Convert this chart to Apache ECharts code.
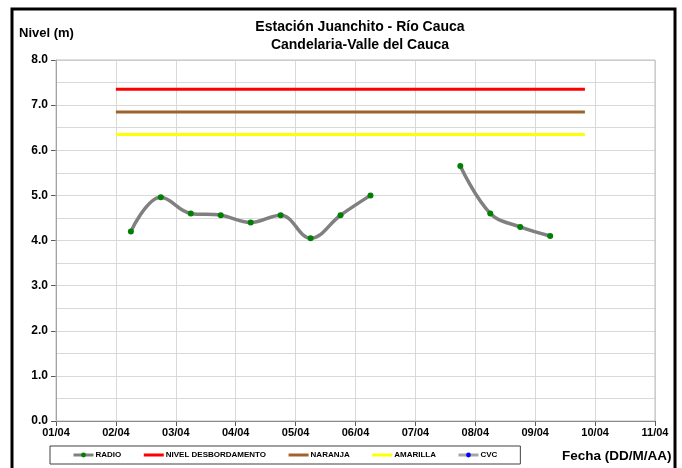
<!DOCTYPE html>
<html>
<head>
<meta charset="utf-8">
<script src="https://cdn.jsdelivr.net/npm/echarts@6/dist/echarts.min.js"></script>
<style>
  html, body { margin: 0; padding: 0; background: #fff; }
  #chart { width: 682px; height: 468px; }
</style>
</head>
<body>
<div id="chart"></div>
<script>
// dias contados desde 01/04 (0 = 01/04 00:00)
var fechas = ['01/04', '02/04', '03/04', '04/04', '05/04', '06/04', '07/04', '08/04', '09/04', '10/04', '11/04']
var radioDias = [1.25, 1.75, 2.25, 2.75, 3.25, 3.75, 4.25, 4.75, 5.25, 5.75, 6.25, 6.75, 7.25, 7.75, 8.25]
var radioNivel = [4.2, 4.96, 4.6, 4.56, 4.4, 4.56, 4.05, 4.56, 5.0, null, null, 5.65, 4.6, 4.3, 4.1]
var umbralDias = [1, 8.83]
var nivelDesbordamento = 7.35
var nivelNaranja = 6.85
var nivelAmarilla = 6.35

var font = 'Liberation Sans, Arial, sans-serif'
var chart = echarts.init(document.getElementById('chart'))

function umbral(name, valor, color) {
  return {
    name: name,
    type: 'line',
    data: umbralDias.map(function (d) { return [d, valor] }),
    symbol: 'none',
    lineStyle: { color: color, width: 3 },
    itemStyle: { color: color },
    z: 3
  }
}

chart.setOption({
  animation: false,
  title: {
    text: 'Estación Juanchito - Río Cauca\nCandelaria-Valle del Cauca',
    left: 355,
    textAlign: 'center',
    top: 13,
    textStyle: { fontFamily: font, fontSize: 14, fontWeight: 'bold', lineHeight: 18, color: '#000' }
  },
  graphic: [
    {
      type: 'rect',
      shape: { x: 12, y: 9, width: 663, height: 480 },
      style: { fill: 'none', stroke: '#000', lineWidth: 3 }
    },
    {
      type: 'text',
      left: 19,
      top: 27,
      style: { text: 'Nivel (m)', font: 'bold 13px ' + font, fill: '#000' }
    },
    {
      type: 'text',
      left: 562,
      top: 449,
      style: { text: 'Fecha (DD/M/AA)', font: 'bold 13.5px ' + font, fill: '#000' }
    },
    {
      type: 'rect',
      shape: { x: 56, y: 60, width: 599, height: 361 },
      style: { fill: 'none', stroke: '#bfbfbf', lineWidth: 1 },
      z: 1
    }
  ],
  grid: { left: 56, right: 27, top: 60, bottom: 47 },
  legend: {
    left: 50,
    top: 446,
    width: 470,
    height: 10,
    padding: [5, 23, 5, 22],
    borderColor: '#404040',
    borderWidth: 1,
    itemWidth: 20,
    itemHeight: 6,
    itemGap: 21,
    lineStyle: { width: 3 },
    textStyle: { fontFamily: font, fontSize: 8, fontWeight: 'bold', color: '#000', padding: [0, 0, 0, -3] },
    data: [
      { name: 'RADIO' },
      { name: 'NIVEL DESBORDAMENTO', itemStyle: { opacity: 0 } },
      { name: 'NARANJA', itemStyle: { opacity: 0 } },
      { name: 'AMARILLA', itemStyle: { opacity: 0 } },
      { name: 'CVC' }
    ]
  },
  xAxis: {
    type: 'value',
    min: 0,
    max: 10,
    interval: 1,
    axisLine: { lineStyle: { color: '#595959', width: 1 } },
    axisTick: { show: true, inside: false, length: 5, lineStyle: { color: '#595959' } },
    axisLabel: {
      formatter: function (v) { return fechas[Math.round(v)] },
      fontFamily: font, fontSize: 11, fontWeight: 'bold', color: '#000', margin: 6
    },
    splitLine: { show: true, lineStyle: { color: '#d9d9d9', width: 1 } }
  },
  yAxis: {
    type: 'value',
    min: 0,
    max: 8,
    interval: 1,
    axisLine: { show: true, lineStyle: { color: '#868686' } },
    axisTick: { show: true, inside: false, length: 5, lineStyle: { color: '#595959' } },
    axisLabel: {
      formatter: function (v) { return v.toFixed(1) },
      fontFamily: font, fontSize: 12, fontWeight: 'bold', color: '#000', margin: 8
    },
    splitLine: { show: true, lineStyle: { color: '#d9d9d9', width: 1 } },
    minorTick: { show: false, splitNumber: 2 },
    minorSplitLine: { show: true, lineStyle: { color: '#d9d9d9', width: 1 } }
  },
  series: [
    {
      name: 'RADIO',
      type: 'line',
      data: radioDias.map(function (d, i) { return [d, radioNivel[i]] }),
      smooth: 0.4,
      connectNulls: false,
      symbol: 'circle',
      symbolSize: 6,
      showAllSymbol: true,
      lineStyle: { color: '#808080', width: 3.5 },
      itemStyle: { color: '#008000' },
      z: 4
    },
    umbral('NIVEL DESBORDAMENTO', nivelDesbordamento, '#ff0000'),
    umbral('NARANJA', nivelNaranja, '#a0622d'),
    umbral('AMARILLA', nivelAmarilla, '#ffff00'),
    {
      name: 'CVC',
      type: 'line',
      data: [],
      symbol: 'circle',
      symbolSize: 5,
      lineStyle: { color: '#a6a6a6', width: 3 },
      itemStyle: { color: '#0000ff' }
    }
  ]
})
</script>
</body>
</html>
